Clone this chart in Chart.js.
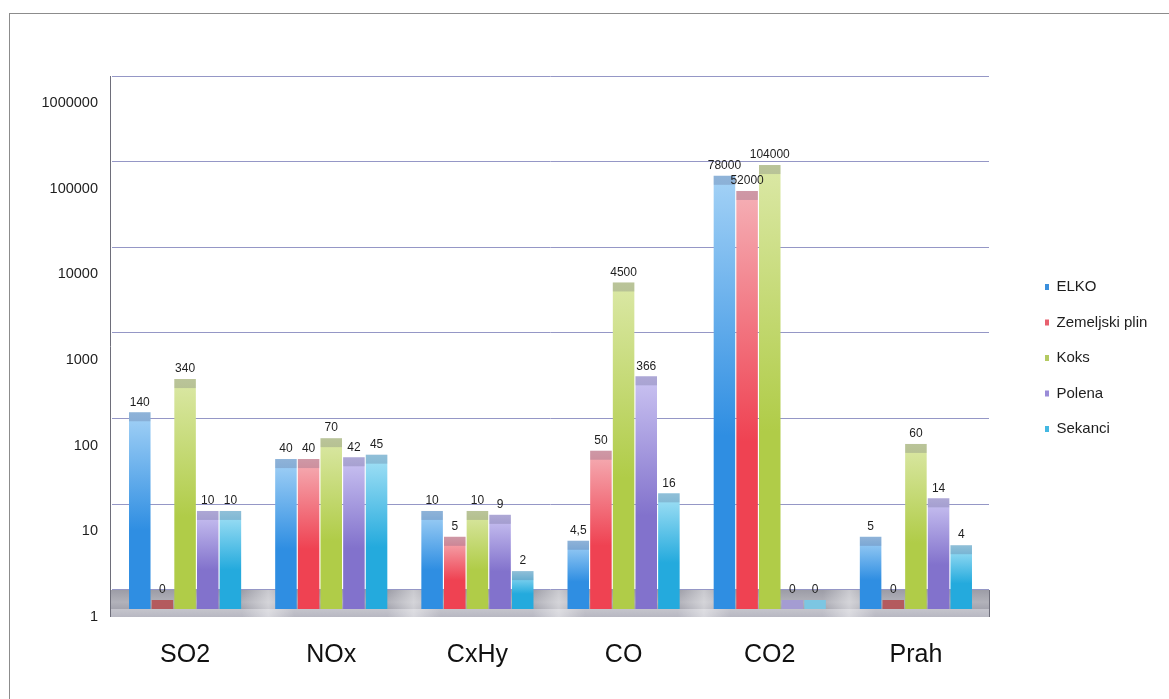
<!DOCTYPE html>
<html>
<head>
<meta charset="utf-8">
<script src="https://cdn.jsdelivr.net/npm/chart.js@4.4.1/dist/chart.umd.min.js"></script>
<style>
  html, body { margin: 0; padding: 0; background: #ffffff; }
  #wrap { position: relative; width: 1169px; height: 699px; overflow: hidden; }
  #frame { position: absolute; left: 9px; top: 13px; right: -2px; bottom: -2px;
           border-top: 1px solid #8c8c8c; border-left: 1px solid #8c8c8c; }
  canvas { position: absolute; left: 0; top: 0; }
</style>
</head>
<body>
<div id="wrap">
  <div id="frame"></div>
  <canvas id="chart" width="1169" height="699"></canvas>
</div>
<script>
// Emisije po vrsti goriva (logaritemska skala)
const categories = ['SO2', 'NOx', 'CxHy', 'CO', 'CO2', 'Prah'];
const seriesNames = ['ELKO', 'Zemeljski plin', 'Koks', 'Polena', 'Sekanci'];

const elko          = [140, 40, 10, 4.5, 78000, 5];
const zemeljskiPlin = [0, 40, 5, 50, 52000, 0];
const koks          = [340, 70, 10, 4500, 104000, 60];
const polena        = [10, 42, 9, 366, 0, 14];
const sekanci       = [10, 45, 2, 16, 0, 4];

const yTicks = [1, 10, 100, 1000, 10000, 100000, 1000000];

// colours: light top, deep bottom, legend key, zero-stub tint
const palette = [
  { light: '#a4d2f6', deep: '#2f8ee2', key: '#3b8fdc', stub: '#4a86c8' },
  { light: '#f5b0b6', deep: '#ef4252', key: '#e8606e', stub: '#b45a5e' },
  { light: '#dbe8a6', deep: '#b0cc48', key: '#b4ca62', stub: '#9fb25a' },
  { light: '#cbc4f2', deep: '#8272cc', key: '#9a8cd8', stub: '#a49cd2' },
  { light: '#a6e2f6', deep: '#24aadd', key: '#44b8e2', stub: '#7cc6e2' }
];

const FONT = "'Liberation Sans', Arial, Helvetica, sans-serif";
const DEPTH = 27;      // depth of the 3D floor / back wall offset in px
const CAP = 9;         // height of the darker top face of each bar

const seriesValues = [elko, zemeljskiPlin, koks, polena, sekanci];

function fmt(v) { return String(v).replace('.', ','); }

function barFill(i) {
  return (ctx) => {
    const pal = palette[i];
    if (ctx.type !== 'data') return pal.key;
    const chart = ctx.chart;
    const area = chart.chartArea;
    const s = chart.scales.yBar;
    if (!area || !s) return pal.deep;
    const top = s.getPixelForValue(ctx.raw);
    const base = area.bottom;
    if (!(base - top > 2)) return pal.deep;
    const g = chart.ctx.createLinearGradient(0, top, 0, base);
    g.addColorStop(0, pal.light);
    g.addColorStop(0.6, pal.deep);
    g.addColorStop(1, pal.deep);
    return g;
  };
}

const datasets = seriesNames.map((name, i) => ({
  label: name,
  data: seriesValues[i],
  yAxisID: 'yBar',
  backgroundColor: barFill(i),
  borderWidth: 0,
  barPercentage: 0.95,
  categoryPercentage: 0.775
}));

// gray floor slab under the bars
const floorPlugin = {
  id: 'floorSlab',
  beforeDatasetsDraw(chart) {
    const { ctx, chartArea } = chart;
    const yg = chart.scales.y;
    const top = yg.getPixelForValue(1);
    const bottom = top + DEPTH;
    const left = chartArea.left - 2;
    const right = chartArea.right + 1;
    ctx.save();
    const g = ctx.createLinearGradient(0, top, 0, bottom);
    g.addColorStop(0, '#9c9ca6');
    g.addColorStop(0.45, '#b2b2ba');
    g.addColorStop(0.7, '#a4a4ae');
    g.addColorStop(0.72, '#c4c4cc');
    g.addColorStop(1, '#b8b8c2');
    ctx.fillStyle = g;
    ctx.fillRect(left, top, right - left, bottom - top);
    // light reflections on the slab
    const hl = ctx.createLinearGradient(left, 0, right, 0);
    const spots = [0.18, 0.345, 0.51, 0.675, 0.84];
    hl.addColorStop(0, 'rgba(255,255,255,0)');
    spots.forEach(p => {
      hl.addColorStop(p - 0.03, 'rgba(255,255,255,0)');
      hl.addColorStop(p, 'rgba(255,255,255,0.45)');
      hl.addColorStop(p + 0.03, 'rgba(255,255,255,0)');
    });
    hl.addColorStop(1, 'rgba(255,255,255,0)');
    ctx.fillStyle = hl;
    ctx.fillRect(left, top, right - left, bottom - top);
    ctx.strokeStyle = '#6e6e7a';
    ctx.lineWidth = 1;
    ctx.beginPath();
    ctx.moveTo(left + 0.5, chartArea.top);
    ctx.lineTo(left + 0.5, bottom);
    ctx.moveTo(right - 0.5, top);
    ctx.lineTo(right - 0.5, bottom);
    ctx.stroke();
    ctx.restore();
  }
};

// top face shading, zero stubs and value labels
const barDecor = {
  id: 'barDecor',
  afterDatasetsDraw(chart) {
    const { ctx, chartArea } = chart;
    ctx.save();
    chart.data.datasets.forEach((ds, di) => {
      const meta = chart.getDatasetMeta(di);
      meta.data.forEach((bar, idx) => {
        const value = ds.data[idx];
        const { x, y, base, width } = bar.getProps(['x', 'y', 'base', 'width'], true);
        let top;
        if (value === 0) {
          // zero values show only the flat top face sitting on the floor
          const b = chartArea.bottom;
          top = b - CAP;
          ctx.fillStyle = palette[di].stub;
          ctx.fillRect(x - width / 2, top, width, CAP);
        } else {
          top = y;
          const h = base - y;
          if (h > 0) {
            ctx.fillStyle = 'rgba(70,70,110,0.22)';
            ctx.fillRect(x - width / 2, y, width, Math.min(CAP, h));
          }
        }
        ctx.fillStyle = '#1e1e1e';
        ctx.font = '12px ' + FONT;
        ctx.textAlign = 'center';
        ctx.textBaseline = 'middle';
        ctx.fillText(fmt(value), x, top - 10);
      });
    });
    ctx.restore();
  }
};

// place the legend to the right of the plot
const legendPlace = {
  id: 'legendPlace',
  afterLayout(chart) {
    const lg = chart.legend;
    if (!lg) return;
    const pad = lg.options.labels.padding;
    const left = 1045 - pad;
    const top = 259;
    lg.left = left; lg.right = left + lg.width;
    lg.top = top; lg.bottom = top + lg.height;
  }
};

new Chart(document.getElementById('chart'), {
  type: 'bar',
  data: { labels: categories, datasets },
  plugins: [floorPlugin, barDecor, legendPlace],
  options: {
    responsive: false,
    animation: false,
    devicePixelRatio: 1,
    layout: { padding: { left: 0, top: 76, right: 180, bottom: 0 } },
    plugins: {
      tooltip: { enabled: false },
      title: { display: false },
      legend: {
        position: 'chartArea',
        align: 'start',
        labels: {
          font: { family: FONT, size: 15 },
          color: '#1e1e1e',
          boxWidth: 4,
          boxHeight: 6,
          padding: 20.5,
          generateLabels(chart) {
            return chart.data.datasets.map((ds, i) => ({
              text: ds.label,
              fillStyle: palette[i].key,
              strokeStyle: palette[i].key,
              lineWidth: 0,
              hidden: false,
              datasetIndex: i,
              fontColor: '#1e1e1e'
            }));
          }
        }
      }
    },
    scales: {
      x: {
        type: 'category',
        offset: true,
        grid: { display: false },
        border: { display: false },
        ticks: {
          font: { family: FONT, size: 25 },
          color: '#111111',
          padding: 23
        },
        afterFit(s) { s.height = 90; }
      },
      y: {
        type: 'logarithmic',
        position: 'left',
        min: 0.6,
        max: 1000000,
        bounds: 'data',
        afterBuildTicks(s) { s.ticks = yTicks.map(v => ({ value: v })); },
        ticks: {
          autoSkip: false,
          labelOffset: DEPTH,
          padding: 14,
          font: { family: FONT, size: 14.5 },
          color: '#1e1e1e',
          callback: (v) => String(v)
        },
        grid: { color: '#9597c6', lineWidth: 1, drawTicks: false },
        border: { display: false },
        afterFit(s) { s.width = 112; }
      },
      yBar: {
        type: 'logarithmic',
        position: 'left',
        display: false,
        min: 0.726,
        max: 1125000,
        bounds: 'data'
      }
    }
  }
});
</script>
</body>
</html>
